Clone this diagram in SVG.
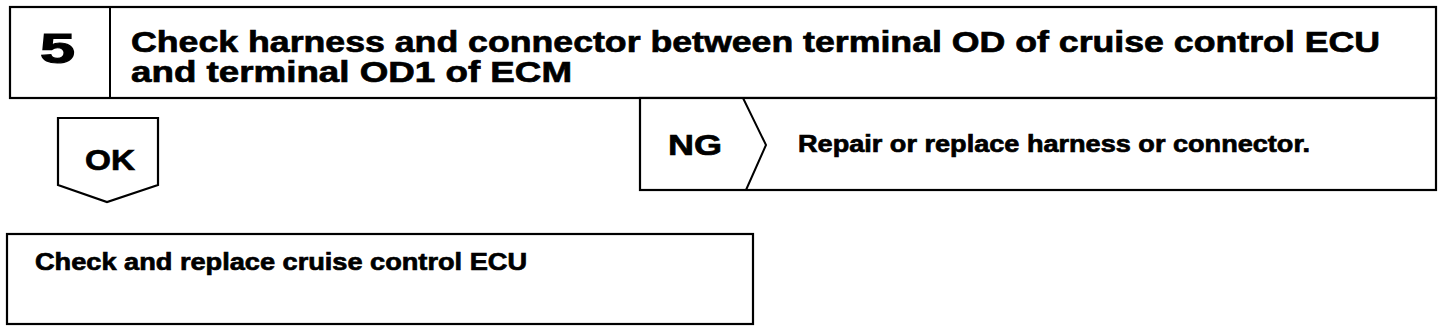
<svg xmlns="http://www.w3.org/2000/svg" width="1456" height="334" viewBox="0 0 1456 334">
<style>
.box{fill:#fff;stroke:#000;stroke-width:2.2}
.ln{fill:none;stroke:#000;stroke-width:2}
.t{font-family:"Liberation Sans",Arial,sans-serif;font-weight:bold;fill:#000;stroke:#000;stroke-width:0.7}
</style>
<rect width="1456" height="334" fill="#fff"/>
<g id="step5">
<rect class="box" x="10" y="7" width="1426" height="91"/>
<line class="ln" x1="110" y1="7" x2="110" y2="98"/>
<text class="t" x="40" y="63" font-size="42" textLength="35" lengthAdjust="spacingAndGlyphs" style="stroke-width:1.2">5</text>
<text class="t" x="131" y="52" font-size="30" textLength="1249" lengthAdjust="spacingAndGlyphs">Check harness and connector between terminal OD of cruise control ECU</text>
<text class="t" x="131" y="82" font-size="30" textLength="441" lengthAdjust="spacingAndGlyphs">and terminal OD1 of ECM</text>
</g>
<g id="ng">
<rect class="box" x="640" y="98" width="796" height="92"/>
<polyline class="ln" points="743,98 766,145 746,190"/>
<text class="t" x="668" y="155" font-size="30" textLength="54" lengthAdjust="spacingAndGlyphs">NG</text>
<text class="t" x="798" y="152" font-size="24" textLength="512" lengthAdjust="spacingAndGlyphs">Repair or replace harness or connector.</text>
</g>
<g id="ok">
<polygon class="box" points="58,118 158,118 158,185 107,202 58,185"/>
<text class="t" x="85" y="170" font-size="30" textLength="50" lengthAdjust="spacingAndGlyphs">OK</text>
</g>
<g id="replace-ecu">
<rect class="box" x="7" y="234" width="746" height="90"/>
<text class="t" x="35" y="270" font-size="24" textLength="492" lengthAdjust="spacingAndGlyphs">Check and replace cruise control ECU</text>
</g>
</svg>
